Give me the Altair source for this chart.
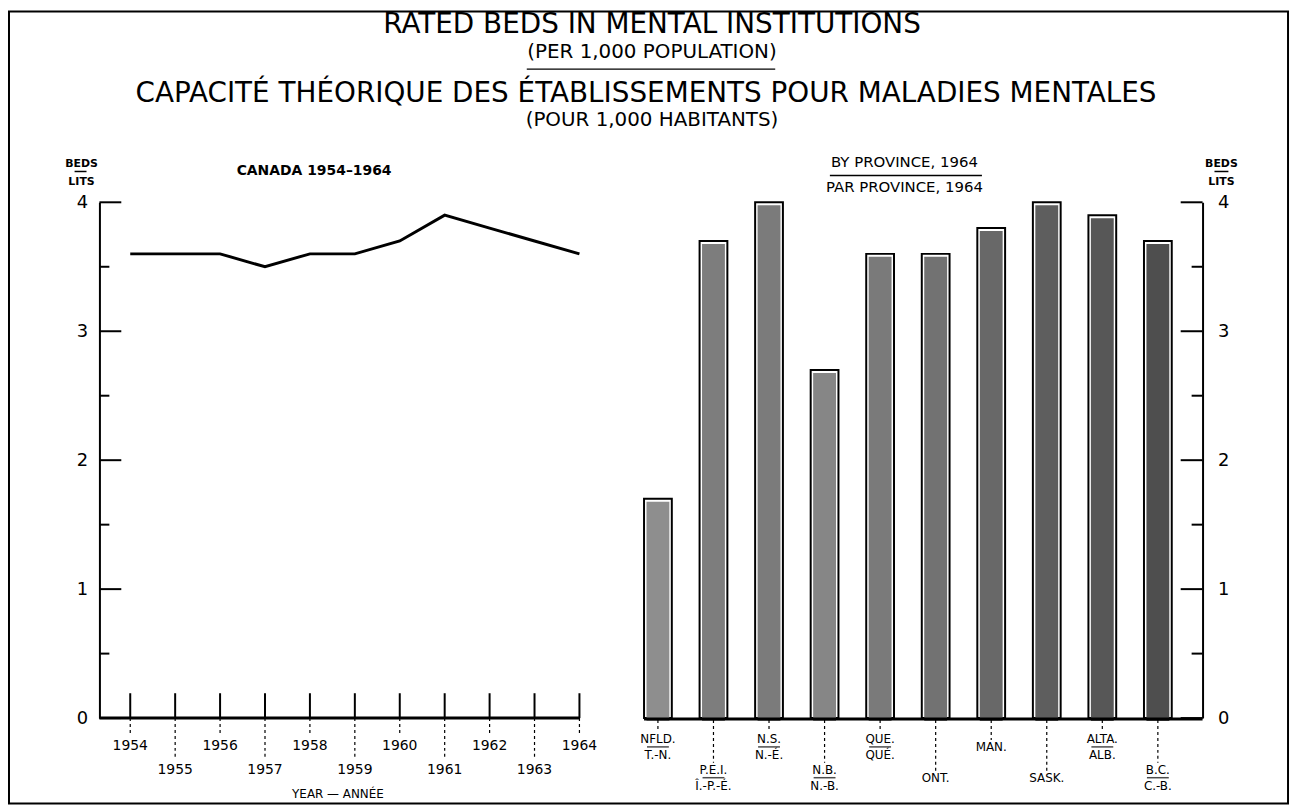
import altair as alt
import pandas as pd

# ---------------- data ----------------
years = [1954, 1955, 1956, 1957, 1958, 1959, 1960, 1961, 1962, 1963, 1964]
canada_rate = [3.6, 3.6, 3.6, 3.5, 3.6, 3.6, 3.7, 3.9, 3.8, 3.7, 3.6]

prov_en = ["NFLD.", "P.E.I.", "N.S.", "N.B.", "QUE.", "ONT.", "MAN.", "SASK.", "ALTA.", "B.C."]
prov_fr = ["T.-N.", "Î.-P.-É.", "N.-É.", "N.-B.", "QUÉ.", "", "", "", "ALB.", "C.-B."]
prov_rate = [1.7, 3.7, 4.0, 2.7, 3.6, 3.6, 3.8, 4.0, 3.9, 3.7]

y_major = [0, 1, 2, 3, 4]
y_minor = [0.5, 1.5, 2.5, 3.5]

title_lines = [
    "RATED BEDS IN MENTAL INSTITUTIONS",
    "(PER 1,000 POPULATION)",
    "CAPACITÉ THÉORIQUE DES ÉTABLISSEMENTS POUR MALADIES MENTALES",
    "(POUR 1,000 HABITANTS)",
]

# ---------------- layout ----------------
W, H = 1110, 519
F = "DejaVu Sans"
INK = "black"

df_year = pd.DataFrame({"year": years, "rate": canada_rate})
df_prov = pd.DataFrame({"prov": prov_en, "fr": prov_fr, "rate": prov_rate,
                        "idx": list(range(len(prov_en)))})
df_major = pd.DataFrame({"v": y_major})
df_minor = pd.DataFrame({"v": y_minor})

YS = alt.Scale(domain=[0, 4], nice=False, zero=True)
XYEAR = alt.Scale(domain=[1954, 1964], range=[31, 483], nice=False, zero=False)
XPROV = alt.Scale(type="band", domain=prov_en, range=[548, 1079],
                  paddingInner=0.5, paddingOuter=0)

grays = ["#8e8e8e", "#7d7d7d", "#7b7b7b", "#868686", "#7a7a7a",
         "#727272", "#686868", "#5e5e5e", "#575757", "#4e4e4e"]


def dummy():
    return pd.DataFrame({"k": [0]})


def label(txt, x, y, size, weight="normal", align="center"):
    return alt.Chart(pd.DataFrame({"t": [txt]})).mark_text(
        font=F, fontSize=size, fontWeight=weight, color=INK, align=align, baseline="middle"
    ).encode(x=alt.value(x), y=alt.value(y), text="t:N")


def hline(x1, x2, y, w=1.5):
    return alt.Chart(dummy()).mark_rule(color=INK, strokeWidth=w).encode(
        x=alt.value(x1), x2=alt.value(x2), y=alt.value(y))


layers = []

# frame
layers.append(alt.Chart(dummy()).mark_rect(fillOpacity=0, stroke=INK, strokeWidth=2).encode(
    x=alt.value(-91), x2=alt.value(1196), y=alt.value(-192), y2=alt.value(605)))

# titles
layers.append(label(title_lines[0], 556, -178, 28))
layers.append(label(title_lines[1], 556, -151, 20))
layers.append(hline(430, 680, -134, 1.5))
layers.append(label(title_lines[2], 550, -109, 28))
layers.append(label(title_lines[3], 556, -83, 20))

# panel titles
layers.append(label("CANADA 1954–1964", 216, -31, 14, "bold"))
layers.append(label("BY PROVINCE, 1964", 810, -41, 15))
layers.append(hline(735, 888, -27, 1.5))
layers.append(label("PAR PROVINCE, 1964", 810, -15, 15))

# BEDS / LITS
layers.append(label("BEDS", -18, -39, 11, "bold"))
layers.append(hline(-25, -13, -31, 1.5))
layers.append(label("LITS", -18, -20, 11, "bold"))
layers.append(label("BEDS", 1129, -39, 11, "bold"))
layers.append(hline(1122, 1136, -31, 1.5))
layers.append(label("LITS", 1129, -20, 11, "bold"))

# ---- left panel: line ----
line = alt.Chart(df_year).mark_line(color=INK, strokeWidth=3).encode(
    x=alt.X("year:Q", scale=XYEAR, axis=None),
    y=alt.Y("rate:Q", scale=YS, axis=alt.Axis(
        orient="left", values=y_major, ticks=False, tickSize=0, labelPadding=12,
        labelFont=F, labelFontSize=18, labelColor=INK, domain=True, domainColor=INK,
        domainWidth=2, grid=False, title=None, format="d")),
)

# left inward ticks
left_major = alt.Chart(df_major).mark_rule(color=INK, strokeWidth=2).encode(
    x=alt.value(0), x2=alt.value(22), y=alt.Y("v:Q", scale=YS, axis=None))
left_minor = alt.Chart(df_minor).mark_rule(color=INK, strokeWidth=2).encode(
    x=alt.value(0), x2=alt.value(10), y=alt.Y("v:Q", scale=YS, axis=None))

# left x axis
left_xaxis = hline(0, 483, H, 3)
year_ticks = alt.Chart(df_year).mark_rule(color=INK, strokeWidth=2).encode(
    x=alt.X("year:Q", scale=XYEAR, axis=None), y=alt.value(H - 25), y2=alt.value(H))
even_lead = alt.Chart(df_year).transform_filter("datum.year % 2 == 0").mark_rule(
    color=INK, strokeWidth=1.2, strokeDash=[3, 3]).encode(
    x=alt.X("year:Q", scale=XYEAR, axis=None), y=alt.value(H), y2=alt.value(H + 17))
odd_lead = alt.Chart(df_year).transform_filter("datum.year % 2 == 1").mark_rule(
    color=INK, strokeWidth=1.2, strokeDash=[3, 3]).encode(
    x=alt.X("year:Q", scale=XYEAR, axis=None), y=alt.value(H), y2=alt.value(H + 41))
even_lab = alt.Chart(df_year).transform_filter("datum.year % 2 == 0").mark_text(
    font=F, fontSize=14, color=INK, baseline="middle").encode(
    x=alt.X("year:Q", scale=XYEAR, axis=None), y=alt.value(H + 28),
    text=alt.Text("year:Q", format="d"))
odd_lab = alt.Chart(df_year).transform_filter("datum.year % 2 == 1").mark_text(
    font=F, fontSize=14, color=INK, baseline="middle").encode(
    x=alt.X("year:Q", scale=XYEAR, axis=None), y=alt.value(H + 52),
    text=alt.Text("year:Q", format="d"))
year_title = label("YEAR — ANNÉE", 240, H + 76, 12)

layers += [left_xaxis, left_major, left_minor, year_ticks, even_lead, odd_lead,
           even_lab, odd_lab, year_title, line]

# ---- right panel: bars ----
bars_outer = alt.Chart(df_prov).mark_bar(fill="white", stroke=INK, strokeWidth=2).encode(
    x=alt.X("prov:N", scale=XPROV, axis=None),
    y=alt.Y("rate:Q", scale=YS, axis=alt.Axis(
        orient="right", values=y_major, ticks=False, tickSize=0, labelPadding=15,
        labelFont=F, labelFontSize=18, labelColor=INK, domain=True, domainColor=INK,
        domainWidth=2, grid=False, title=None, format="d")),
)
bars_inner = alt.Chart(df_prov).mark_bar(size=23, yOffset=3).encode(
    x=alt.X("prov:N", scale=XPROV, axis=None),
    y=alt.Y("rate:Q", scale=YS, axis=None),
    color=alt.Color("prov:N", scale=alt.Scale(domain=prov_en, range=grays), legend=None),
)

right_major = alt.Chart(df_major).mark_rule(color=INK, strokeWidth=2).encode(
    x=alt.value(W - 22), x2=alt.value(W), y=alt.Y("v:Q", scale=YS, axis=None))
right_minor = alt.Chart(df_minor).mark_rule(color=INK, strokeWidth=2).encode(
    x=alt.value(W - 11), x2=alt.value(W), y=alt.Y("v:Q", scale=YS, axis=None))
right_xaxis = hline(548, W, H + 1, 3)

layers += [bars_outer, bars_inner, right_xaxis, right_major, right_minor]

XP = alt.X("prov:N", scale=XPROV, axis=None, bandPosition=0.5)


def prov_part(flt, kind, y):
    base = alt.Chart(df_prov).transform_filter(flt)
    if kind == "lead":
        return base.mark_rule(color=INK, strokeWidth=1.2, strokeDash=[3, 3]).encode(
            x=XP, y=alt.value(H + 2), y2=alt.value(y))
    if kind == "bar":
        return base.mark_tick(orient="horizontal", size=22, thickness=1.5, color=INK).encode(
            x=XP, y=alt.value(y))
    field = "prov:N" if kind == "en" else "fr:N"
    return base.mark_text(font=F, fontSize=12, color=INK, baseline="middle").encode(
        x=XP, y=alt.value(y), text=field)


for row, base_y in ((0, H + 21), (1, H + 52)):
    two = f"datum.idx % 2 == {row} && datum.fr != ''"
    one = f"datum.idx % 2 == {row} && datum.fr == ''"
    layers += [
        prov_part(two, "lead", base_y - 7),
        prov_part(one, "lead", base_y + 1),
        prov_part(two, "en", base_y),
        prov_part(two, "bar", base_y + 8),
        prov_part(two, "fr", base_y + 16),
        prov_part(one, "en", base_y + 8),
    ]

chart = alt.layer(*layers).resolve_scale(
    x="independent", y="independent", color="independent"
).properties(
    width=W, height=H,
    padding={"left": 92, "top": 193, "right": 90, "bottom": 91},
    autosize=alt.AutoSizeParams(type="none"),
    background="white",
).configure_view(strokeOpacity=0)

chart.save("out.html", embed_options={"renderer": "svg", "actions": False})
